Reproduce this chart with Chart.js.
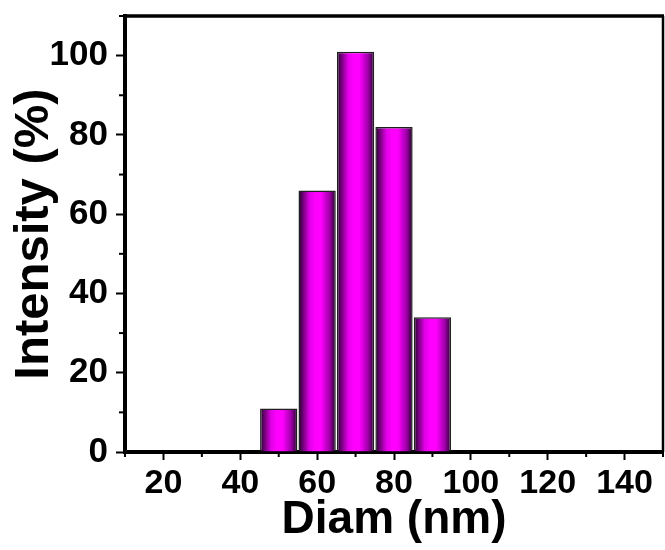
<!DOCTYPE html>
<html><head><meta charset="utf-8">
<script src="https://cdn.jsdelivr.net/npm/chart.js@4"></script>
<style>html,body{margin:0;padding:0;background:#fff}</style>
</head><body>
<canvas id="c" width="665" height="550"></canvas>
<script>
const diameters = [50, 60, 70, 80, 90];
const intensities = [11, 66, 101, 82, 34];
const xTickValues = [20, 40, 60, 80, 100, 120, 140];
const yTickValues = [0, 20, 40, 60, 80, 100];
const xRange = [10, 150];
const yRange = [0, 110];
const xTitle = 'Diam (nm)';
const yTitle = 'Intensity (%)';

const FONT = '"Liberation Sans", Arial, sans-serif';

function barGradient(ctx) {
  const chart = ctx.chart;
  const xs = chart.scales && chart.scales.x;
  if (!xs || !ctx.raw) return '#ff00ff';
  const half = (diameters[1] - diameters[0]) / 2;
  const x0 = xs.getPixelForValue(ctx.raw.x - half);
  const x1 = xs.getPixelForValue(ctx.raw.x + half);
  if (!isFinite(x0) || !isFinite(x1) || x1 <= x0) return '#ff00ff';
  const g = chart.ctx.createLinearGradient(x0, 0, x1, 0);
  g.addColorStop(0, '#1a0020');
  g.addColorStop(0.1, '#5a0062');
  g.addColorStop(0.3, '#e000e6');
  g.addColorStop(0.45, '#ff00ff');
  g.addColorStop(0.6, '#ff00ff');
  g.addColorStop(0.82, '#a000aa');
  g.addColorStop(1, '#1a0020');
  return g;
}

const framePlugin = {
  id: 'frame',
  afterDraw(chart) {
    const {ctx, chartArea: a, scales} = chart;
    ctx.save();
    ctx.strokeStyle = '#000';
    ctx.lineCap = 'butt';
    ctx.lineWidth = 3.5;
    ctx.beginPath(); ctx.moveTo(a.left - 2, a.top); ctx.lineTo(a.right + 1, a.top); ctx.stroke();
    ctx.lineWidth = 2.5;
    ctx.beginPath(); ctx.moveTo(a.right, a.top); ctx.lineTo(a.right, a.bottom); ctx.stroke();
    ctx.lineWidth = 2;
    const xs = scales.x, ys = scales.y;
    const xt = xs.ticks.map(t => t.value);
    const xm = [];
    for (let i = 0; i < xt.length - 1; i++) xm.push((xt[i] + xt[i + 1]) / 2);
    xm.push(xt[0] - (xt[1] - xt[0]) / 2, xt[xt.length - 1] + (xt[1] - xt[0]) / 2);
    xm.forEach(v => {
      if (v < xs.min || v > xs.max) return;
      const p = xs.getPixelForValue(v);
      ctx.beginPath(); ctx.moveTo(p, a.bottom); ctx.lineTo(p, a.bottom + 5); ctx.stroke();
    });
    const yt = ys.ticks.map(t => t.value);
    const ym = [];
    for (let i = 0; i < yt.length - 1; i++) ym.push((yt[i] + yt[i + 1]) / 2);
    ym.push(yt[yt.length - 1] + (yt[1] - yt[0]) / 2);
    ym.forEach(v => {
      if (v < ys.min || v > ys.max) return;
      const p = ys.getPixelForValue(v);
      ctx.beginPath(); ctx.moveTo(a.left, p); ctx.lineTo(a.left - 6, p); ctx.stroke();
    });
    ctx.restore();
  }
};

new Chart(document.getElementById('c'), {
  type: 'bar',
  data: {
    datasets: [{
      data: diameters.map((d, i) => ({x: d, y: intensities[i]})),
      backgroundColor: barGradient,
      borderColor: '#202020',
      borderWidth: 1.5,
      barPercentage: 0.97,
      categoryPercentage: 1
    }]
  },
  options: {
    responsive: false,
    animation: false,
    layout: {padding: {left: 0, right: 2, top: 16, bottom: 0}},
    plugins: {legend: {display: false}, tooltip: {enabled: false}},
    scales: {
      x: {
        type: 'linear',
        offset: false,
        min: xRange[0], max: xRange[1],
        afterBuildTicks: s => { s.ticks = xTickValues.map(v => ({value: v})); },
        afterFit: s => { s.height = 98; s.paddingLeft = 0; s.paddingRight = 0; },
        grid: {offset: false, drawOnChartArea: false, drawTicks: true, tickLength: 8, tickWidth: 2, color: '#000'},
        border: {display: true, width: 4, color: '#000'},
        ticks: {color: '#000', padding: 3, maxRotation: 0, autoSkip: false,
                font: {family: FONT, size: 34, weight: 'bold'}},
        title: {display: true, text: xTitle, color: '#000', padding: {top: 0, bottom: 2},
                font: {family: FONT, size: 46, weight: 'bold'}}
      },
      y: {
        type: 'linear',
        min: yRange[0], max: yRange[1],
        afterBuildTicks: s => { s.ticks = yTickValues.map(v => ({value: v})); },
        afterFit: s => { s.width = 125; s.paddingTop = 0; s.paddingBottom = 0; },
        grid: {drawOnChartArea: false, drawTicks: true, tickLength: 9, tickWidth: 2, color: '#000'},
        border: {display: true, width: 4, color: '#000'},
        ticks: {color: '#000', padding: 8, autoSkip: false,
                font: {family: FONT, size: 35, weight: 'bold'}},
        title: {display: true, text: yTitle, color: '#000', padding: {top: 5, bottom: 0},
                font: {family: FONT, size: 49, weight: 'bold'}}
      }
    }
  },
  plugins: [framePlugin]
});
</script>
</body></html>
